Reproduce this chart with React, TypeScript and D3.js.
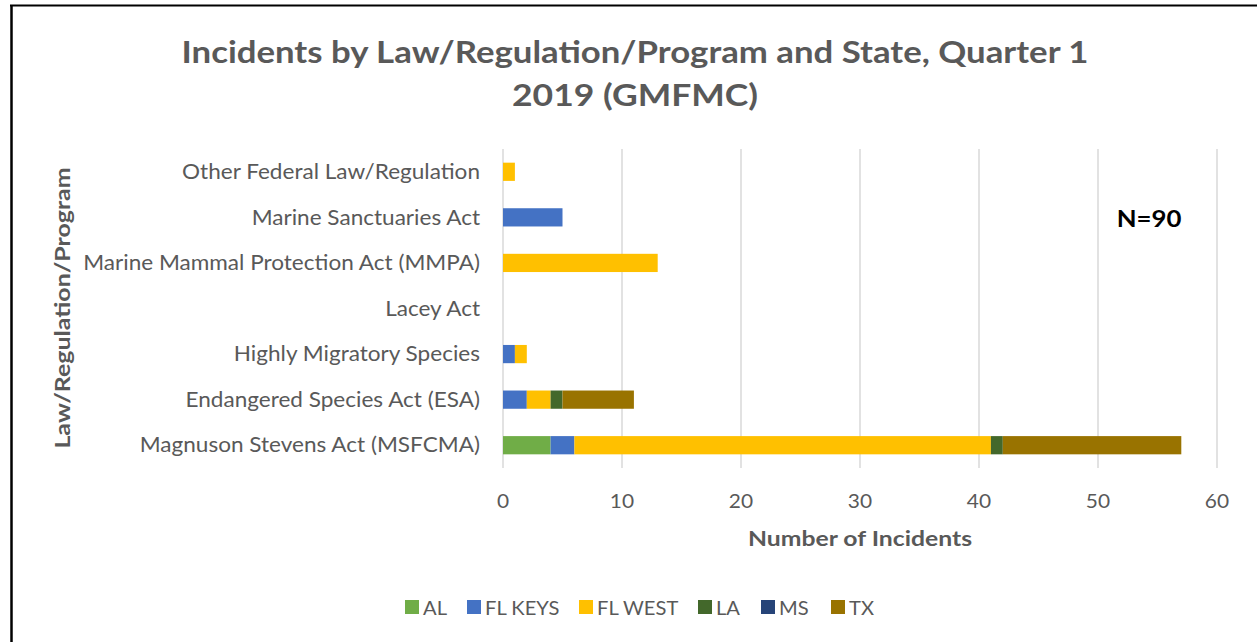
import React, { useEffect, useRef } from 'react';
import * as d3 from 'd3';

// categories top -> bottom as drawn
const categories = [
  'Other Federal Law/Regulation',
  'Marine Sanctuaries Act',
  'Marine Mammal Protection Act (MMPA)',
  'Lacey Act',
  'Highly Migratory Species',
  'Endangered Species Act (ESA)',
  'Magnuson Stevens Act (MSFCMA)',
];
const states = ['AL', 'FL KEYS', 'FL WEST', 'LA', 'MS', 'TX'];
const colors = ['#70AD47', '#4472C4', '#FFC000', '#43682B', '#264478', '#997300'];

const AL = [0, 0, 0, 0, 0, 0, 4];
const FL_KEYS = [0, 5, 0, 0, 1, 2, 2];
const FL_WEST = [1, 0, 13, 0, 1, 2, 35];
const LA = [0, 0, 0, 0, 0, 1, 1];
const MS = [0, 0, 0, 0, 0, 0, 0];
const TX = [0, 0, 0, 0, 0, 6, 15];

const xTicks = [0, 10, 20, 30, 40, 50, 60];
const titleLines = ['Incidents by Law/Regulation/Program and State, Quarter 1', '2019 (GMFMC)'];

const W = 1257;
const H = 642;
const font = 'Lato, "Open Sans", sans-serif';

// widen text a bit so Lato takes the room the original font took
function stretch(sel: any, k: number) {
  sel.each(function (this: SVGTextElement) {
    const len = this.getComputedTextLength();
    d3.select(this).attr('textLength', len * k).attr('lengthAdjust', 'spacingAndGlyphs');
  });
}

export default function App() {
  const ref = useRef<SVGSVGElement>(null);

  useEffect(() => {
    const svg = d3.select(ref.current);
    svg.selectAll('*').remove();

    const rows = categories.map((c, i) => ({
      cat: c,
      AL: AL[i], 'FL KEYS': FL_KEYS[i], 'FL WEST': FL_WEST[i], LA: LA[i], MS: MS[i], TX: TX[i],
    }));
    const series = d3.stack<any>().keys(states)(rows);

    const x = d3.scaleLinear().domain([0, 60]).range([503, 1217]);
    const y = d3.scaleBand().domain(categories).range([149, 468]).paddingInner(0.6).paddingOuter(0.3);
    const color = d3.scaleOrdinal<string>().domain(states).range(colors);

    svg.append('rect').attr('width', W).attr('height', H).attr('fill', '#fff');

    // border
    svg.append('line').attr('x1', 10).attr('x2', W).attr('y1', 5.5).attr('y2', 5.5)
      .attr('stroke', '#000').attr('stroke-width', 2);
    svg.append('line').attr('x1', 11.5).attr('x2', 11.5).attr('y1', 5).attr('y2', H)
      .attr('stroke', '#000').attr('stroke-width', 2.5);

    // title
    svg.append('g').selectAll('text').data(titleLines).join('text')
      .attr('x', 635).attr('y', (d, i) => 63 + i * 43)
      .attr('text-anchor', 'middle')
      .attr('font-family', font).attr('font-weight', 700).attr('font-size', 30)
      .attr('fill', '#595959')
      .attr('textLength', (d, i) => (i === 0 ? 907 : 246))
      .attr('lengthAdjust', 'spacingAndGlyphs')
      .text((d) => d);

    // gridlines
    svg.append('g').selectAll('line').data(xTicks).join('line')
      .attr('x1', (d) => x(d)).attr('x2', (d) => x(d))
      .attr('y1', 149).attr('y2', 468)
      .attr('stroke', '#d9d9d9').attr('stroke-width', 1.5);

    // x tick labels
    svg.append('g').selectAll('text').data(xTicks).join('text')
      .attr('x', (d) => x(d)).attr('y', 508)
      .attr('text-anchor', 'middle')
      .attr('font-family', font).attr('font-size', 19).attr('fill', '#595959')
      .text((d) => d)
      .call(stretch, 1.1);

    // bars
    svg.append('g').selectAll('g').data(series).join('g')
      .attr('fill', (d) => color(d.key))
      .selectAll('rect').data((d) => d).join('rect')
      .attr('x', (d) => x(d[0]))
      .attr('y', (d) => y(d.data.cat)!)
      .attr('width', (d) => x(d[1]) - x(d[0]))
      .attr('height', y.bandwidth());

    // category labels
    svg.append('g').selectAll('text').data(categories).join('text')
      .attr('x', 480).attr('y', (d) => y(d)! + y.bandwidth() / 2)
      .attr('dy', '0.35em')
      .attr('text-anchor', 'end')
      .attr('font-family', font).attr('font-size', 20.5).attr('fill', '#595959')
      .text((d) => d)
      .call(stretch, 1.1);

    // axis titles
    svg.append('text')
      .attr('x', 860).attr('y', 546)
      .attr('text-anchor', 'middle')
      .attr('font-family', font).attr('font-weight', 700).attr('font-size', 21.5).attr('fill', '#595959')
      .text('Number of Incidents')
      .call(stretch, 1.15);
    svg.append('text')
      .attr('transform', 'translate(70,308) rotate(-90)')
      .attr('text-anchor', 'middle')
      .attr('font-family', font).attr('font-weight', 700).attr('font-size', 21.5).attr('fill', '#595959')
      .text('Law/Regulation/Program')
      .call(stretch, 1.16);

    svg.append('text')
      .attr('x', 1149).attr('y', 227)
      .attr('text-anchor', 'middle')
      .attr('font-family', font).attr('font-weight', 700).attr('font-size', 23).attr('fill', '#000')
      .text('N=90')
      .call(stretch, 1.12);

    // legend
    const legendX = [405, 467, 579, 698, 761, 831];
    const lg = svg.append('g').selectAll('g').data(states).join('g')
      .attr('transform', (d, i) => `translate(${legendX[i]},600)`);
    lg.append('rect').attr('width', 14).attr('height', 14).attr('fill', (d) => color(d));
    lg.append('text').attr('x', 18).attr('y', 15)
      .attr('font-family', font).attr('font-size', 19).attr('fill', '#595959')
      .text((d) => d)
      .call(stretch, 1.06);
  }, []);

  return (
    <svg ref={ref} width={W} height={H}
      style={{ position: 'absolute', left: 0, top: 0, display: 'block' }} />
  );
}
